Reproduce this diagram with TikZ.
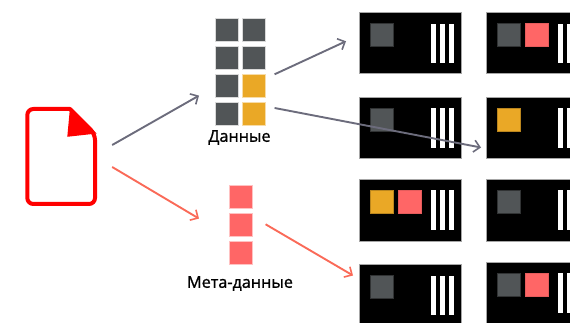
\documentclass[tikz,border=0pt]{standalone}
\usepackage{fontspec}
\setmainfont{Open Sans}
\newfontfamily\lblfont[FakeBold=1.2]{Open Sans}
\usetikzlibrary{arrows.meta}
\definecolor{dgray}{HTML}{515557}
\definecolor{amber}{HTML}{EAA826}
\definecolor{coral}{HTML}{FF6666}
\definecolor{arrgray}{HTML}{6C6C7C}
\definecolor{arrred}{HTML}{FA6A58}
\tikzset{
  panelbox/.style={rectangle,fill=black,draw=black!35,line width=.5pt,inner sep=0pt,minimum width=102pt,minimum height=61pt,anchor=north west},
  cell/.style={rectangle,inner sep=0pt,minimum width=23pt,minimum height=23pt,anchor=north west,line width=.6pt},
  graycell/.style={cell,fill=dgray,draw=black!40!dgray},
  ambercell/.style={cell,fill=amber,draw=black!20!amber},
  redcell/.style={cell,fill=coral,draw=black!10!coral},
  gridgray/.style={cell,fill=dgray,draw=black!15},
  gridamber/.style={cell,fill=amber,draw=amber!40},
  gridred/.style={cell,fill=coral,draw=coral!40},
  barcell/.style={rectangle,fill=white,inner sep=0pt,minimum width=5.2pt,minimum height=39.5pt,anchor=north west},
  link/.style={line width=1.9pt,-{Straight Barb[length=6pt,width=12pt,line width=1.6pt]}},
  graylink/.style={link,draw=arrgray},
  redlink/.style={link,draw=arrred},
  lbl/.style={font=\fontsize{16.2}{18}\selectfont\lblfont,text=black,inner sep=0pt}
}
\newcommand{\panel}[4]{% name, x, y, bars y
  \node[panelbox] (#1) at (#2,#3) {};
  \node[barcell] (#1b1) at (#2+71.5,#4) {};
  \node[barcell] (#1b2) at (#2+80.7,#4) {};
  \node[barcell] (#1b3) at (#2+90,#4) {};
}
\begin{document}
\begin{tikzpicture}[x=1pt,y=-1pt]
\useasboundingbox (0,0) rectangle (570,323);
\clip (0,0) rectangle (570,323);
% document
\node[rectangle,minimum width=71pt,minimum height=99pt,inner sep=0pt] (doc) at (60.8,156.5) {};
\draw[draw=red,line width=4pt,line join=round,rounded corners=6pt] (70,109) -- (27.3,109) -- (27.3,204) -- (95,204) -- (95,134) [sharp corners] -- (70,109) -- cycle;
\fill[red] (70,107.5) -- (96.7,133.5) -- (67.3,136.8) -- cycle;
% data grid
\foreach \n/\x/\y/\s in {d1/214.5/18/gridgray,d2/242/18/gridgray,d3/214.5/46/gridgray,d4/242/46/gridgray,d5/214.5/74/gridgray,d6/242/74/gridamber,d7/214.5/102/gridgray,d8/242/102/gridamber}
  \node[\s] (\n) at (\x,\y) {};
\node[lbl] (datalabel) at (239.5,137.5) {Данные};
% metadata
\foreach \n/\y in {m1/185,m2/213,m3/241}
  \node[gridred] (\n) at (229,\y) {};
\node[lbl] (metalabel) at (240,283.5) {Мета-данные};
% panels
\panel{pa}{359}{12}{23.5}
\node[graycell] (pa1) at (370,23.5) {};
\panel{pb}{359}{97}{108}
\node[graycell] (pb1) at (370,108) {};
\panel{pc}{359}{179.5}{190.3}
\node[ambercell] (pc1) at (370,190.3) {};
\node[redcell] (pc2) at (398.3,190.3) {};
\panel{pd}{359}{264}{275.3}
\node[graycell] (pd1) at (370,275.3) {};
\panel{qa}{486.3}{12}{23.5}
\node[graycell] (qa1) at (497,23.5) {};
\node[redcell] (qa2) at (525,23.5) {};
\panel{qb}{486.3}{97}{108}
\node[ambercell] (qb1) at (497,108) {};
\panel{qc}{486.3}{179.5}{190.3}
\node[graycell] (qc1) at (497,190.3) {};
\panel{qd}{486.3}{262}{273}
\node[graycell] (qd1) at (497,273) {};
\node[redcell] (qd2) at (525,273) {};
% connectors
\draw[graylink] ([shift={(15.7pt,11.5pt)}]doc.east) -- ([shift={(-15.5pt,2pt)}]d5.south west);
\draw[redlink] ([shift={(15.7pt,-10.5pt)}]doc.east) -- ([shift={(-30pt,18pt)}]m2.south west);
\draw[graylink] ([shift={(9pt,11.5pt)}]d6.east) -- ([shift={(-13pt,1.5pt)}]pa.west);
\draw[graylink] ([shift={(9pt,-6pt)}]d8.north east) -- ([shift={(-5.3pt,11pt)}]qb.south west);
\draw[redlink] ([shift={(13pt,0.5pt)}]m2.east) -- ([shift={(-6pt,50pt)}]pd.south west);
\end{tikzpicture}
\end{document}
